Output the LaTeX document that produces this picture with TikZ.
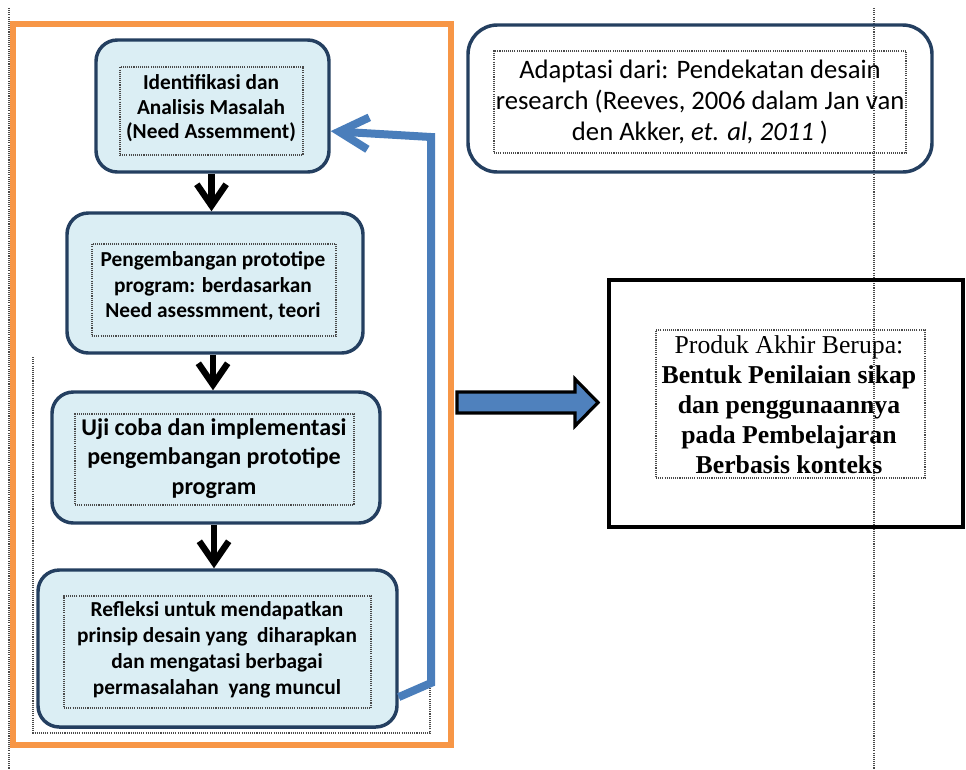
\documentclass[tikz,border=0pt]{standalone}
\usepackage{fontspec}
\setmainfont{Carlito}
\newfontfamily\timesfont{Liberation Serif}
\usetikzlibrary{arrows.meta}
\definecolor{boxfill}{HTML}{DBEEF4}
\definecolor{boxline}{HTML}{243F60}
\definecolor{orangeline}{HTML}{F79646}
\definecolor{bluearrow}{HTML}{4A7EBB}
\definecolor{blockblue}{HTML}{4F81BD}
\definecolor{dotgray}{HTML}{4A4A4A}
\tikzset{
  stepbox/.style={draw=boxline, line width=2.6pt, fill=boxfill, rounded corners=16pt, inner sep=0pt},
  dotframe/.style={draw=dotgray, line width=0.8pt, dash pattern=on 0.8pt off 0.8pt, inner sep=0pt},
  dotline/.style={draw=dotgray, line width=0.8pt, dash pattern=on 0.8pt off 0.8pt},
  boxtext/.style={align=center, inner sep=0pt, font=\bfseries\fontsize{16}{19}\selectfont},
  downarrow/.style={draw=black, line width=4.8pt, -{Straight Barb[length=16pt,width=22pt]}},
  feedback/.style={draw=bluearrow, line width=6pt, -{Straight Barb[length=22pt,width=24pt]}},
}
\begin{document}
\begin{tikzpicture}[x=0.75pt,y=-0.75pt]
\useasboundingbox[fill=white] (0,0) rectangle (966,769);

% vertical dotted guide lines
\coordinate (gl1) at (9,8);
\coordinate (gl2) at (9,769);
\coordinate (gr1) at (874,8);
\coordinate (gr2) at (874,769);
\draw[dotline] (gl1) -- (gl2);
\draw[dotline] (gr1) -- (gr2);

% orange frame
\node[draw=orangeline, line width=4.5pt, minimum width=328.5pt, minimum height=540.75pt, inner sep=0pt] (frame) at (232,384.5) {};

% partial dotted frame
\coordinate (pf1) at (33,357);
\coordinate (pf2) at (33,733);
\coordinate (pf3) at (430,733);
\coordinate (pf4) at (430,687);
\draw[dotline] (pf1) -- (pf2) -- (pf3) -- (pf4);

% step boxes
\node[stepbox, minimum width=174.75pt, minimum height=99pt] (b1) at (212.5,106) {};
\node[dotframe, minimum width=137.25pt, minimum height=66pt] (f1) at (211.5,111) {};
\node[boxtext, font=\bfseries\fontsize{16}{18.4}\selectfont] (t1) at (211,108.5) {Identifikasi dan\\Analisis Masalah\\(Need Assemment)};

\node[stepbox, minimum width=222pt, minimum height=105pt] (b2) at (215,283) {};
\node[dotframe, minimum width=183pt, minimum height=69pt] (f2) at (214,290) {};
\node[boxtext] (t2) at (213,286) {Pengembangan prototipe\\program: berdasarkan\\Need asessmment, teori};

\node[stepbox, minimum width=246pt, minimum height=98.25pt] (b3) at (216,457.5) {};
\node[dotframe, minimum width=209.25pt, minimum height=68.25pt] (f3) at (214.5,459.5) {};
\node[boxtext, font=\bfseries\fontsize{18}{22}\selectfont] (t3) at (214,458.5) {Uji coba dan implementasi\\pengembangan prototipe\\program};

\node[stepbox, minimum width=269.25pt, minimum height=117.75pt] (b4) at (217.5,648.5) {};
\node[dotframe, minimum width=230.25pt, minimum height=84pt] (f4) at (217.5,652) {};
\node[boxtext, font=\bfseries\fontsize{16}{19.5}\selectfont] (t4) at (217,650) {Refleksi untuk mendapatkan\\prinsip desain yang \ diharapkan\\dan mengatasi berbagai\\permasalahan \ yang muncul};

% arrows between steps
\draw[downarrow] (b1.south) ++(-1,0) coordinate (a1) -- (a1 |- b2.north);
\draw[downarrow] (b2.south) ++(-2,0) coordinate (a2) -- (a2 |- b3.north);
\draw[downarrow] (b3.south) ++(-2,0) coordinate (a3) -- (a3 |- b4.north);

% feedback arrow
\coordinate (fb1) at (431,683);
\coordinate (fb2) at (431,137);
\draw[feedback] (b4.-15) -- (fb1) -- (fb2) -- (b1.-12);

% source box
\node[draw=boxline, line width=2.6pt, rounded corners=22pt, minimum width=348pt, minimum height=110.25pt, inner sep=0pt] (src) at (700,98.5) {};
\node[dotframe, minimum width=309pt, minimum height=76.5pt] (fsrc) at (700,102) {};
\node[align=center, inner sep=0pt, font=\fontsize{20}{23}\selectfont] (tsrc) at (700,102) {Adaptasi dari: Pendekatan desain\\research (Reeves, 2006 dalam Jan van\\den Akker, \textit{et. al, 2011} )};

% product box
\node[draw=black, line width=2.8pt, minimum width=265.5pt, minimum height=185.25pt, inner sep=0pt] (prod) at (786,403.5) {};
\node[dotframe, minimum width=201.75pt, minimum height=111pt] (fprod) at (790.5,404) {};
\node[align=center, inner sep=0pt, font=\timesfont\fontsize{19.3}{22.5}\selectfont] (tprod) at (789,405) {Produk Akhir Berupa:\\\textbf{Bentuk Penilaian sikap}\\\textbf{dan penggunaannya}\\\textbf{pada Pembelajaran}\\\textbf{Berbasis konteks}};

% block arrow from frame to product
\coordinate (ba1) at (457,392);
\coordinate (ba2) at (575,392);
\coordinate (ba3) at (575,379);
\coordinate (ba4) at (598,402.5);
\coordinate (ba5) at (575,426);
\coordinate (ba6) at (575,413);
\coordinate (ba7) at (457,413);
\draw[fill=blockblue, draw=black, line width=2.4pt, line join=miter]
  (ba1) -- (ba2) -- (ba3) -- (ba4) -- (ba5) -- (ba6) -- (ba7) -- cycle;
\end{tikzpicture}
\end{document}
